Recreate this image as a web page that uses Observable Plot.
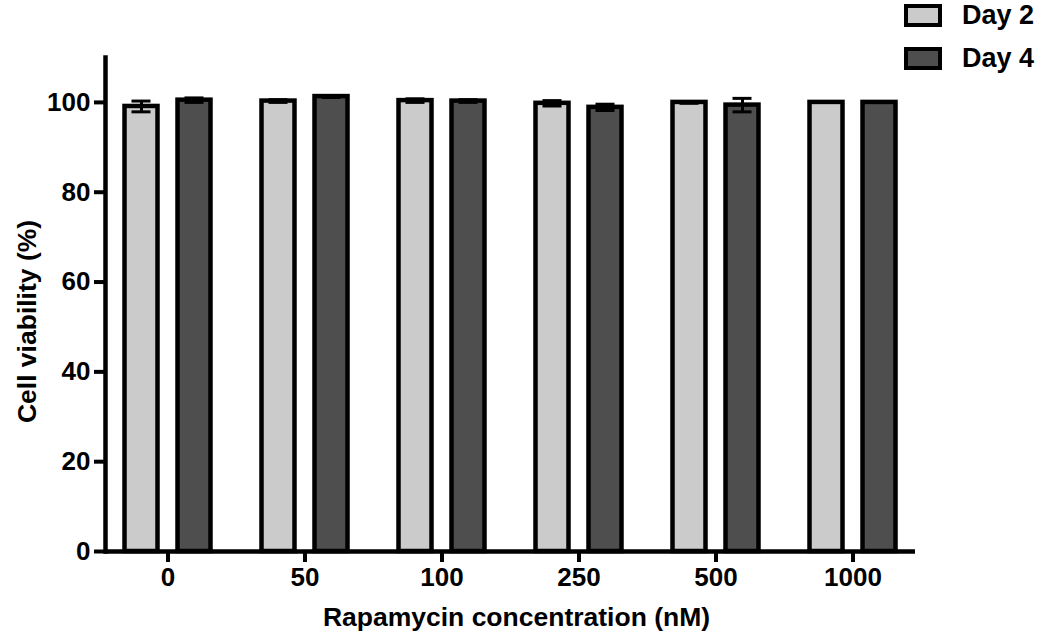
<!DOCTYPE html>
<html>
<head>
<meta charset="utf-8">
<script src="https://cdn.jsdelivr.net/npm/d3@7"></script>
<script src="https://cdn.jsdelivr.net/npm/@observablehq/plot@0.6"></script>
<style>
  html, body { margin: 0; padding: 0; background: #fff; }
  #wrap { position: relative; width: 1043px; height: 637px; font-family: "Liberation Sans", Arial, sans-serif; }
  #legend { position: absolute; left: 904px; top: 4px; font-weight: bold; font-size: 27px; color: #000; }
  .item { display: flex; align-items: center; height: 23px; margin-bottom: 20px; }
  .sw { width: 30px; height: 15px; border: 4px solid #000; margin-right: 20px; }
</style>
</head>
<body>
<div id="wrap"><div id="legend"></div></div>
<script>
const concentrations = ["0", "50", "100", "250", "500", "1000"];
const series = ["Day 2", "Day 4"];
const day2Values = [99.1, 100.3, 100.4, 99.8, 100.0, 100.0];
const day2Errors = [1.2, 0.3, 0.4, 0.6, 0.2, 0];
const day4Values = [100.5, 101.3, 100.3, 98.9, 99.4, 100.0];
const day4Errors = [0.5, 0.2, 0.3, 0.7, 1.5, 0];
const yTicks = [0, 20, 40, 60, 80, 100];
const colors = {"Day 2": "#cbcbcb", "Day 4": "#4e4e4e"};

const data = [];
concentrations.forEach((c, i) => {
  data.push({conc: c, day: "Day 2", value: day2Values[i], err: day2Errors[i]});
  data.push({conc: c, day: "Day 4", value: day4Values[i], err: day4Errors[i]});
});
const off = 26.5;
const d2 = data.filter(d => d.day === "Day 2");
const d4 = data.filter(d => d.day === "Day 4");
const font = "Liberation Sans, Arial, sans-serif";

const barOpts = (sub, dx) => Plot.barY(sub, {
  x: "conc", y: "value", dx, fill: d => colors[d.day],
  stroke: "#000", strokeWidth: 4.5, insetLeft: 43, insetRight: 43
});
const errRule = (sub, dx) => Plot.ruleX(sub.filter(d => d.err > 0), {
  x: "conc", y1: d => d.value - d.err, y2: d => d.value + d.err, dx, stroke: "#000", strokeWidth: 3
});
const errCap = (sub, dx, which) => Plot.tickY(sub.filter(d => d.err > 0), {
  x: "conc", y: d => d.value + which * d.err, dx, stroke: "#000", strokeWidth: 3, insetLeft: 50, insetRight: 50
});

const plot = Plot.plot({
  width: 1043, height: 637,
  marginLeft: 105, marginRight: 128, marginTop: 57, marginBottom: 86,
  style: {fontFamily: font, background: "#fff", overflow: "visible"},
  x: {domain: concentrations, paddingInner: 0.13, paddingOuter: 0},
  y: {domain: [0, 110]},
  marks: [
    barOpts(d2, -off), barOpts(d4, off),
    errRule(d2, -off), errRule(d4, off),
    errCap(d2, -off, 1), errCap(d2, -off, -1),
    errCap(d4, off, 1), errCap(d4, off, -1),
    Plot.axisY({ticks: yTicks, tickSize: 11, tickPadding: 4, fontSize: 26, fontWeight: "bold", strokeWidth: 4, label: null, color: "#000"}),
    Plot.axisX({tickSize: 11, tickPadding: 5, fontSize: 26, fontWeight: "bold", strokeWidth: 4, label: null, color: "#000"}),
    Plot.ruleY([0], {stroke: "#000", strokeWidth: 4.5}),
    Plot.frame({anchor: "left", stroke: "#000", strokeWidth: 4.5}),
    Plot.text(["Cell viability (%)"], {frameAnchor: "left", textAnchor: "middle", lineAnchor: "middle", rotate: -90, dx: -78, dy: 17, fontSize: 26.5, fontWeight: "bold", fill: "#000"}),
    Plot.text(["Rapamycin concentration (nM)"], {frameAnchor: "bottom", textAnchor: "middle", lineAnchor: "middle", dx: 6, dy: 66, fontSize: 26.5, fontWeight: "bold", fill: "#000"})
  ]
});
const wrap = document.getElementById("wrap");
wrap.insertBefore(plot, wrap.firstChild);

const legend = document.getElementById("legend");
series.forEach(s => {
  const item = document.createElement("div");
  item.className = "item";
  const sw = document.createElement("div");
  sw.className = "sw";
  sw.style.background = colors[s];
  const t = document.createElement("span");
  t.textContent = s;
  item.appendChild(sw); item.appendChild(t);
  legend.appendChild(item);
});
</script>
</body>
</html>
